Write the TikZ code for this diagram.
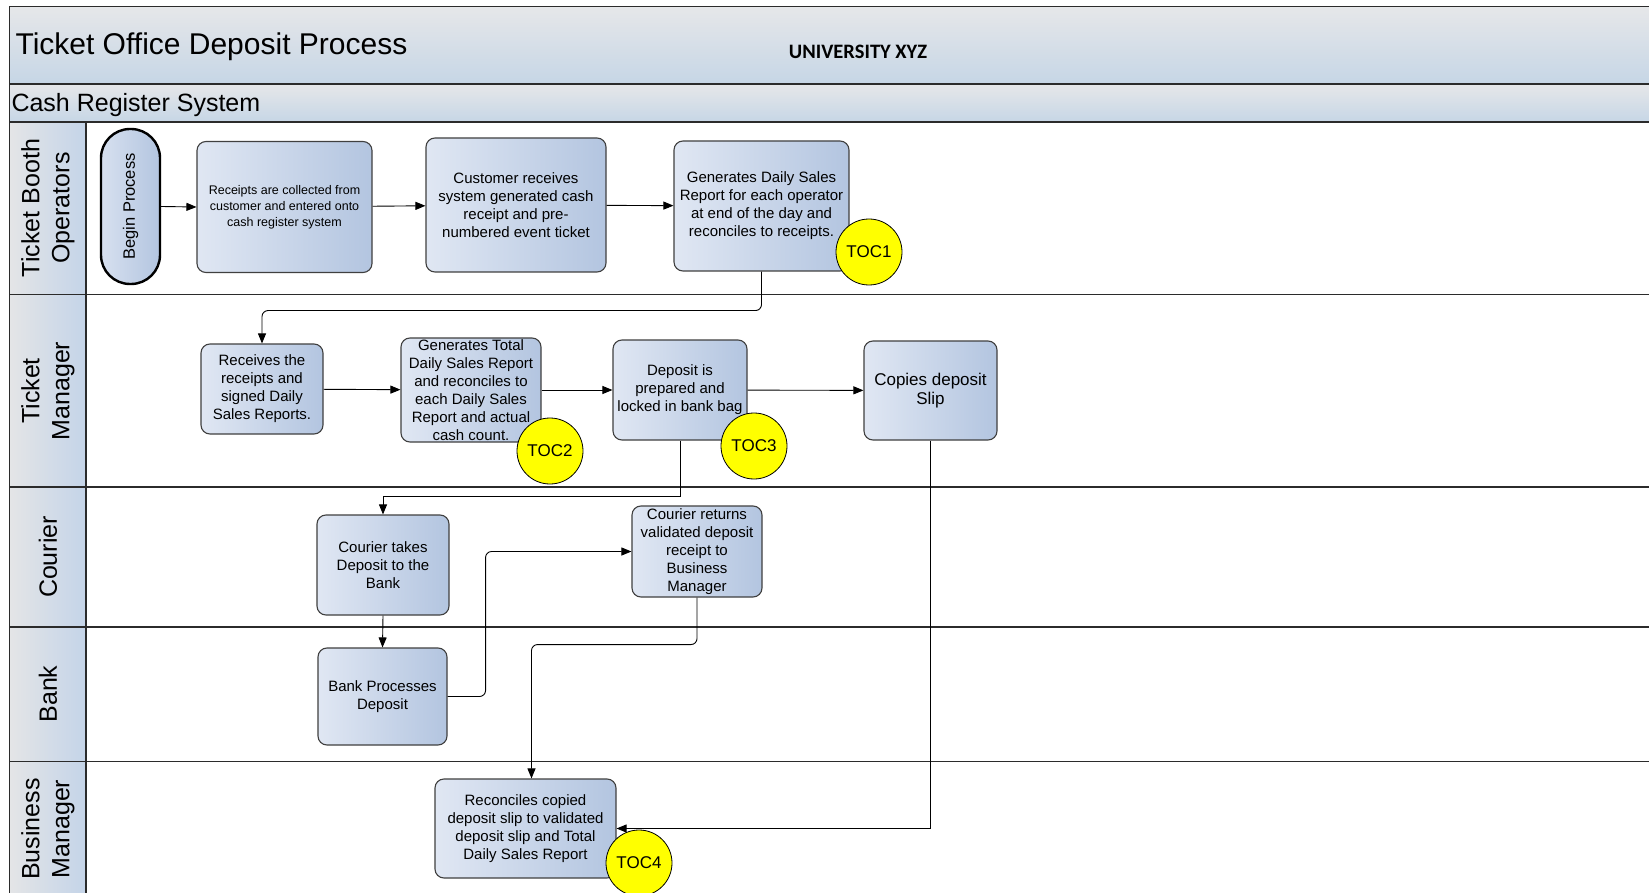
\documentclass[tikz,border=0pt]{standalone}
\usepackage{graphicx}
\usepackage{fontspec}
\setmainfont{Liberation Sans}
\newfontfamily\carlito{Carlito}
\definecolor{barlight}{HTML}{E6E7E9}
\definecolor{bardark}{HTML}{C6D6E6}
\definecolor{headlight}{HTML}{E4E5E7}
\definecolor{headdark}{HTML}{C4D4E8}
\definecolor{boxlight}{HTML}{E0E7F3}
\definecolor{boxdark}{HTML}{B3C5E0}
\definecolor{boxline}{HTML}{404040}
\definecolor{laneline}{HTML}{2B2B2B}
\definecolor{tocyellow}{HTML}{FFFF00}
\usetikzlibrary{arrows.meta}

\begin{document}
\begin{tikzpicture}[
  x=1pt, y=-1pt,
  proc/.style={draw=boxline, line width=1.1pt, rounded corners=9pt,
    left color=boxlight, right color=boxdark, align=center, inner sep=1pt,
    font=\fontsize{15}{18}\selectfont},
  startbox/.style={draw=black, line width=2.4pt, rounded corners=29pt,
    left color=boxlight!80!boxdark, right color=boxdark, inner sep=0pt,
    font=\fontsize{16.5}{19}\selectfont},
  toc/.style={circle, draw=black, line width=0.8pt, fill=tocyellow,
    minimum size=66pt, inner sep=0pt, font=\fontsize{17}{20}\selectfont},
  bar/.style={draw=laneline, line width=1.2pt, top color=barlight, bottom color=bardark},
  lanehead/.style={draw=laneline, line width=1.2pt, left color=headlight, right color=headdark},
  lanelabel/.style={rotate=90, align=center, font=\fontsize{25}{30}\selectfont},
  laneline/.style={draw=laneline, line width=1.5pt},
  flow/.style={draw=black, line width=0.9pt, -{Triangle[length=10pt,width=8pt]}}
]
  \useasboundingbox (0,0) rectangle (1649,893);
  \fill[white] (0,0) rectangle (1649,893);
  \clip (0,0) rectangle (1649,893);

  % Title bars
  \draw[bar] (9.5,6.3) rectangle (1665,84);
  \draw[bar] (9.5,84) rectangle (1665,122);
  \node[anchor=west, font=\fontsize{30}{34}\selectfont] (title) at (12,47) {Ticket Office Deposit Process};
  \node[font=\carlito\bfseries\fontsize{20.5}{24}\selectfont] (univ) at (858,51.5) {UNIVERSITY XYZ};
  \node[anchor=west, font=\fontsize{25}{29}\selectfont] (system) at (8,105) {Cash Register System};

  % Swim lanes
  \draw[laneline] (86,294.5) -- (1665,294.5);
  \draw[laneline] (86,487) -- (1665,487);
  \draw[laneline] (86,627) -- (1665,627);
  \draw[laneline] (86,761.5) -- (1665,761.5);
  \draw[lanehead] (9.5,122) rectangle (86,294.5);
  \draw[lanehead] (9.5,294.5) rectangle (86,487);
  \draw[lanehead] (9.5,487) rectangle (86,627);
  \draw[lanehead] (9.5,627) rectangle (86,761.5);
  \draw[lanehead] (9.5,761.5) rectangle (86,905);
  \node[lanelabel] (lbooth) at (48,208) {Ticket Booth\\Operators};
  \node[lanelabel] (lmanager) at (48,391) {Ticket\\Manager};
  \node[lanelabel] (lcourier) at (48,557) {Courier};
  \node[lanelabel] (lbank) at (48,694) {Bank};
  \node[lanelabel] (lbusiness) at (48,829) {Business\\Manager};

  % Ticket booth operators
  \node[startbox, minimum width=59pt, minimum height=155pt] (begin) at (130.5,206.5)
    {\rotatebox{90}{Begin Process}};
  \node[proc, minimum width=175pt, minimum height=131pt, font=\fontsize{12.5}{15.8}\selectfont]
    (rcpt) at (284.5,207) {Receipts are collected from\\customer and entered onto\\cash register system};
  \node[proc, minimum width=180pt, minimum height=134pt] (cust) at (516,205)
    {Customer receives\\system generated cash\\receipt and pre-\\numbered event ticket};
  \node[proc, minimum width=175pt, minimum height=130pt] (dsr) at (761.5,206)
    {Generates Daily Sales\\Report for each operator\\at end of the day and\\reconciles to receipts.};

  % Ticket manager
  \node[proc, minimum width=122pt, minimum height=90pt] (recv) at (262,389)
    {Receives the\\receipts and\\signed Daily\\Sales Reports.};
  \node[proc, minimum width=140pt, minimum height=104pt, inner sep=0pt] (tdsr) at (471,390)
    {Generates Total\\Daily Sales Report\\and reconciles to\\each Daily Sales\\Report and actual\\cash count.};
  \node[proc, minimum width=134pt, minimum height=100pt] (prep) at (680,390)
    {Deposit is\\prepared and\\locked in bank bag};
  \node[proc, minimum width=133pt, minimum height=99pt, font=\fontsize{17}{19}\selectfont]
    (copy) at (930.5,390.5) {Copies deposit\\Slip};

  % Courier and bank
  \node[proc, minimum width=132pt, minimum height=100pt] (take) at (383,565)
    {Courier takes\\Deposit to the\\Bank};
  \node[proc, minimum width=130pt, minimum height=91pt] (ret) at (697,551.5)
    {Courier returns\\validated deposit\\receipt to\\Business\\Manager};
  \node[proc, minimum width=129pt, minimum height=97pt] (bank) at (382.5,696.5)
    {Bank Processes\\Deposit};

  % Business manager
  \node[proc, minimum width=181pt, minimum height=99pt] (recon) at (525.5,828.5)
    {Reconciles copied\\deposit slip to validated\\deposit slip and Total\\Daily Sales Report};

  % Flow
  \draw[flow] (begin.east) -- (rcpt.west);
  \draw[flow] (rcpt) -- (cust);
  \draw[flow] (cust) -- (dsr);
  \draw[flow, rounded corners=6pt] (dsr.south) -- ++(0,39) -| (recv.north);
  \draw[flow] (recv) -- (tdsr);
  \draw[flow] (tdsr) -- (prep);
  \draw[flow] (prep) -- (copy);
  \draw[flow] (prep.south) -- ++(0,56) -| (take.north);
  \draw[flow] (take.south) -- (bank.north);
  \draw[flow, rounded corners=6pt] (bank.east) -- ++(38,0) |- (ret.west);
  \draw[flow, rounded corners=6pt] (ret.south) -- ++(0,47) -| ([xshift=6pt]recon.north);
  \draw[flow] (copy.south) |- (recon.east);

  % Control points
  \node[toc] (toc1) at (869,252) {TOC1};
  \node[toc] (toc2) at (550,451) {TOC2};
  \node[toc] (toc3) at (754,446) {TOC3};
  \node[toc] (toc4) at (639,863) {TOC4};
\end{tikzpicture}
\end{document}
